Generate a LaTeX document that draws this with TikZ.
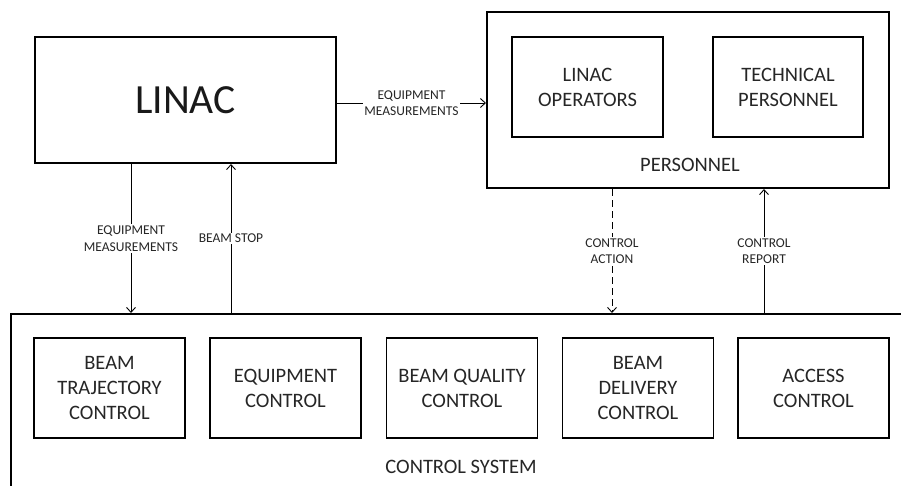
\documentclass[tikz,border=0pt]{standalone}
\usepackage{fontspec}
\setmainfont{Carlito}
\usetikzlibrary{arrows.meta}
\begin{document}
\begin{tikzpicture}[x=1pt,y=-1pt,
  outerbox/.style={draw=black,line width=2pt,rectangle,inner sep=0pt},
  innerbox/.style={draw=black,line width=1.2pt,rectangle,inner sep=0pt,minimum width=151pt,minimum height=100pt,align=center,font=\fontsize{20.5}{25}\selectfont,text=black!85},
  lbl/.style={fill=white,inner sep=1.5pt,align=center,font=\fontsize{13.5}{16.5}\selectfont,text=black!85},
  arr/.style={line width=0.9pt,-{Straight Barb[length=5pt,width=9pt]}}]
\useasboundingbox (0,0) rectangle (901,485);
\clip (0,0) rectangle (901,485);
\fill[white] (0,0) rectangle (901,485);
% LINAC
\node[outerbox,minimum width=301pt,minimum height=126pt,font=\fontsize{41.5}{50}\selectfont,text=black!90] (linac) at (185.5,100) {LINAC};
% Personnel
\node[outerbox,minimum width=402pt,minimum height=176pt] (pers) at (688,100) {};
\node[innerbox,minimum width=151pt,minimum height=100pt] (ops) at (587.5,87) {LINAC\\OPERATORS};
\node[innerbox,minimum width=150pt,minimum height=100pt] (tech) at (788,87) {TECHNICAL\\PERSONNEL};
\node[font=\fontsize{20.5}{25}\selectfont,text=black!85] (perslbl) at (690,165) {PERSONNEL};
% Control system
\node[outerbox,minimum width=920pt,minimum height=200pt,anchor=north west] (cs) at (10,313) {};
\node[innerbox] (btc) at (109.5,388) {BEAM\\TRAJECTORY\\CONTROL};
\node[innerbox] (eqc) at (285.5,388) {EQUIPMENT\\CONTROL};
\node[innerbox] (bqc) at (462,388) {BEAM QUALITY\\CONTROL};
\node[innerbox] (bdc) at (638,388) {BEAM\\DELIVERY\\CONTROL};
\node[innerbox] (acc) at (813.5,388) {ACCESS\\CONTROL};
\node[font=\fontsize{20.5}{25}\selectfont,text=black!85] (cslbl) at (461,467) {CONTROL SYSTEM};
% connector positions
\coordinate (xa) at (131,0);
\coordinate (xb) at (231,0);
\coordinate (xc) at (612,0);
\coordinate (xd) at (764,0);
\coordinate (yh) at (0,103);
% connectors
\draw[arr] (linac.south -| xa) -- node[lbl]{EQUIPMENT\\MEASUREMENTS} (cs.north -| xa);
\draw[arr] (cs.north -| xb) -- node[lbl]{BEAM STOP} (linac.south -| xb);
\draw[arr] (linac.east |- yh) -- node[lbl]{EQUIPMENT\\MEASUREMENTS} (pers.west |- yh);
\draw[arr,dash pattern=on 7pt off 4pt] (pers.south -| xc) -- node[lbl]{CONTROL\\ACTION} (cs.north -| xc);
\draw[arr] (cs.north -| xd) -- node[lbl]{CONTROL\\REPORT} (pers.south -| xd);
\end{tikzpicture}
\end{document}
